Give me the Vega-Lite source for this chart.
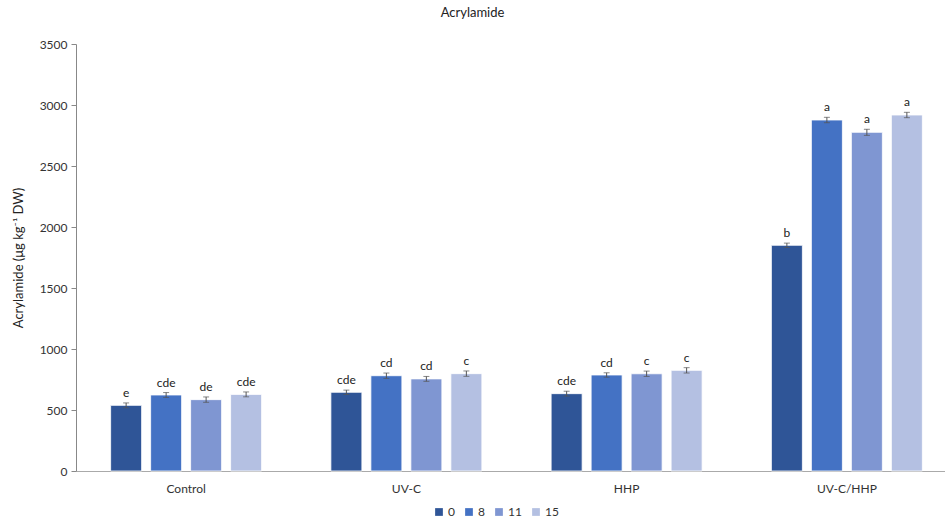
{
  "$schema": "https://vega.github.io/schema/vega-lite/v6.json",
  "autosize": {"type": "none"},
  "padding": {"left": 76, "top": 44, "right": 0, "bottom": 49},
  "width": 881,
  "height": 427,
  "background": "white",
  "config": {
    "font": "Lato",
    "view": {"stroke": null}
  },
  "title": {"text": "Acrylamide", "fontSize": 13, "fontWeight": "normal", "color": "#222", "anchor": "middle", "offset": 18, "dx": -44, "font": "Lato"},
  "data": {"values": [
    {"group": "Control", "series": "0", "value": 538, "err": 20, "label": "e"},
    {"group": "Control", "series": "8", "value": 623, "err": 20, "label": "cde"},
    {"group": "Control", "series": "11", "value": 585, "err": 22, "label": "de"},
    {"group": "Control", "series": "15", "value": 628, "err": 20, "label": "cde"},
    {"group": "UV-C", "series": "0", "value": 645, "err": 18, "label": "cde"},
    {"group": "UV-C", "series": "8", "value": 781, "err": 22, "label": "cd"},
    {"group": "UV-C", "series": "11", "value": 755, "err": 20, "label": "cd"},
    {"group": "UV-C", "series": "15", "value": 798, "err": 22, "label": "c"},
    {"group": "HHP", "series": "0", "value": 634, "err": 20, "label": "cde"},
    {"group": "HHP", "series": "8", "value": 787, "err": 18, "label": "cd"},
    {"group": "HHP", "series": "11", "value": 797, "err": 22, "label": "c"},
    {"group": "HHP", "series": "15", "value": 825, "err": 22, "label": "c"},
    {"group": "UV-C/HHP", "series": "0", "value": 1850, "err": 18, "label": "b"},
    {"group": "UV-C/HHP", "series": "8", "value": 2877, "err": 22, "label": "a"},
    {"group": "UV-C/HHP", "series": "11", "value": 2776, "err": 25, "label": "a"},
    {"group": "UV-C/HHP", "series": "15", "value": 2918, "err": 22, "label": "a"}
  ]},
  "encoding": {
    "x": {"field": "group", "type": "nominal", "sort": ["Control", "UV-C", "HHP", "UV-C/HHP"],
      "scale": {"paddingInner": 0, "paddingOuter": 0},
      "axis": {"title": null, "labelAngle": 0, "labelFontSize": 12, "labelColor": "#333", "domainColor": "#aaa", "ticks": false, "labelPadding": 12, "labelFont": "Lato"}},
    "xOffset": {"field": "series", "type": "nominal", "sort": ["0", "8", "11", "15"], "scale": {"paddingInner": 0.225, "paddingOuter": 0.866}}
  },
  "layer": [
    {
      "mark": {"type": "bar", "stroke": "white", "strokeWidth": 0.8},
      "encoding": {
        "y": {"field": "value", "type": "quantitative", "title": "Acrylamide (μg kg⁻¹ DW)",
          "scale": {"domain": [0, 3500]},
          "axis": {"values": [0, 500, 1000, 1500, 2000, 2500, 3000, 3500], "format": "d", "grid": false, "titleFontSize": 13, "titleFontWeight": "normal", "titleColor": "#222", "titlePadding": 14, "labelFontSize": 12, "labelColor": "#333", "domainColor": "#888", "tickColor": "#888", "tickSize": 5, "labelPadding": 4, "labelFont": "Lato", "titleFont": "Lato"}},
        "color": {"field": "series", "type": "nominal", "sort": ["0", "8", "11", "15"],
          "scale": {"domain": ["0", "8", "11", "15"], "range": ["#2f5597", "#4472c4", "#7f96d2", "#b4c0e2"]},
          "legend": {"title": null, "orient": "none", "legendX": 357, "legendY": 462, "direction": "horizontal", "symbolType": "square", "symbolSize": 60, "symbolStrokeWidth": 0, "labelFontSize": 12, "labelColor": "#333", "columnPadding": 8, "labelOffset": 3, "labelFont": "Lato"}}
      }
    },
    {
      "mark": {"type": "errorbar", "ticks": {"size": 6, "color": "#555"}, "rule": {"color": "#555"}},
      "encoding": {
        "y": {"field": "value", "type": "quantitative", "title": "Acrylamide (μg kg⁻¹ DW)"},
        "yError": {"field": "err"}
      }
    },
    {
      "transform": [{"calculate": "datum.value + datum.err", "as": "top"}],
      "mark": {"type": "text", "dy": -10, "fontSize": 12, "color": "#222", "font": "Lato"},
      "encoding": {
        "y": {"field": "top", "type": "quantitative", "title": "Acrylamide (μg kg⁻¹ DW)"},
        "text": {"field": "label"}
      }
    }
  ]
}
